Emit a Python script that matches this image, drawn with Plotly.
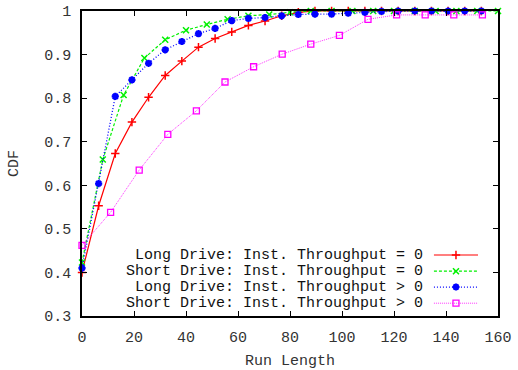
import plotly.graph_objects as go

# Run-length CDF data for the four drive / throughput cases
long_zero_x = [0, 6.4, 12.8, 19.2, 25.6, 32, 38.4, 44.8, 51.2, 57.6, 64, 70.4, 76.8,
               83.2, 89.6, 96, 102.4, 108.8, 115.2, 121.6, 128, 134.4, 140.8, 147.2, 153.6]
long_zero_y = [0.400, 0.553, 0.673, 0.745, 0.802, 0.852, 0.885, 0.917, 0.937, 0.952, 0.967,
               0.977, 0.989, 0.997, 1.0, 1.0, 1.0, 1.0, 1.0, 1.0, 1.0, 1.0, 1.0, 1.0, 1.0]

short_zero_x = [0, 8, 16, 24, 32, 40, 48, 56, 64, 72, 80, 88, 96, 104, 112, 120,
                128, 136, 144, 152, 160]
short_zero_y = [0.423, 0.659, 0.807, 0.892, 0.934, 0.956, 0.969, 0.981, 0.989, 0.992,
                0.997, 1.0, 1.0, 1.0, 1.0, 1.0, 1.0, 1.0, 1.0, 1.0, 1.0]

long_pos_x = [0, 6.4, 12.8, 19.2, 25.6, 32, 38.4, 44.8, 51.2, 57.6, 64, 70.4, 76.8,
              83.2, 89.6, 96, 102.4, 108.8, 115.2, 121.6, 128, 134.4, 140.8, 147.2, 153.6]
long_pos_y = [0.410, 0.604, 0.804, 0.842, 0.880, 0.911, 0.930, 0.948, 0.960, 0.978, 0.983,
              0.985, 0.989, 0.992, 0.993, 0.993, 0.995, 0.997, 0.999, 1.0, 1.0, 1.0, 1.0, 1.0, 1.0]

short_pos_x = [0, 11, 22, 33, 44, 55, 66, 77, 88, 99, 110, 121, 132, 143, 154]
short_pos_y = [0.462, 0.538, 0.635, 0.717, 0.771, 0.837, 0.872, 0.901, 0.924, 0.944,
               0.981, 0.991, 0.991, 0.991, 0.991]

series_names = [
    "Long Drive: Inst. Throughput = 0",
    "Short Drive: Inst. Throughput = 0",
    "Long Drive: Inst. Throughput > 0",
    "Short Drive: Inst. Throughput > 0",
]

x_ticks = [0, 20, 40, 60, 80, 100, 120, 140, 160]
y_ticks = [0.3, 0.4, 0.5, 0.6, 0.7, 0.8, 0.9, 1.0]
y_tick_text = ["0.3", "0.4", "0.5", "0.6", "0.7", "0.8", "0.9", "1"]

FONT = "Liberation Mono"
TEXT_COLOR = "#333333"

styles = [
    dict(color="#ff0000", dash="solid", symbol="cross-thin-open", size=6, width=1.2, mlw=1.5),
    dict(color="#00f000", dash="3px,2px", symbol="x-thin-open", size=6, width=1.2, mlw=1.5),
    dict(color="#0000ff", dash="1px,2px", symbol="asterisk-open", size=6, width=1.3, mlw=2.2),
    dict(color="#ff00ff", dash="1px,1px", symbol="square-open", size=6, width=0.8, mlw=1.3),
]

data = [
    (long_zero_x, long_zero_y),
    (short_zero_x, short_zero_y),
    (long_pos_x, long_pos_y),
    (short_pos_x, short_pos_y),
]


def marker_style(st):
    return dict(symbol=st["symbol"], size=st["size"], color=st["color"],
                line=dict(color=st["color"], width=st["mlw"]))


fig = go.Figure()

for (xs, ys), name, st in zip(data, series_names, styles):
    fig.add_trace(go.Scatter(
        x=xs, y=ys, mode="lines+markers", name=name, showlegend=False,
        cliponaxis=False,
        line=dict(color=st["color"], dash=st["dash"], width=st["width"]),
        marker=marker_style(st),
    ))

# Key in the lower right: right-aligned text, then a line sample with its marker
key_rows = [0.200, 0.147, 0.095, 0.042]
key_text_x = 0.822
key_line = (0.846, 0.952)
key_mark_x = 0.899

for row, name, st in zip(key_rows, series_names, styles):
    fig.add_annotation(
        x=key_text_x, y=row, xref="paper", yref="paper", text=name,
        showarrow=False, xanchor="right", yanchor="middle", borderpad=0,
        font=dict(family=FONT, size=15, color="#111111"),
    )
    fig.add_shape(
        type="line", xref="paper", yref="paper",
        x0=key_line[0], x1=key_line[1], y0=row, y1=row,
        line=dict(color=st["color"], dash=st["dash"], width=st["width"]),
    )
    fig.add_trace(go.Scatter(
        x=[key_mark_x], y=[row], xaxis="x2", yaxis="y2", mode="markers",
        showlegend=False, hoverinfo="skip", cliponaxis=False,
        marker=marker_style(st),
    ))

axis_common = dict(
    showgrid=False, zeroline=False, showline=True, linecolor="#000000", linewidth=1.5,
    mirror="ticks", ticks="inside", ticklen=5, tickcolor="#000000", tickwidth=1,
    tickfont=dict(family=FONT, size=15, color=TEXT_COLOR), automargin=False,
)

fig.update_layout(
    width=518, height=370,
    margin=dict(l=82, r=20, t=11, b=54),
    paper_bgcolor="#ffffff", plot_bgcolor="#ffffff",
    xaxis=dict(range=[0, 160], tickvals=x_ticks, ticktext=[str(v) for v in x_ticks],
               ticklabelstandoff=6,
               title=dict(text="Run Length", font=dict(family=FONT, size=15, color=TEXT_COLOR),
                          standoff=12),
               **axis_common),
    yaxis=dict(range=[0.3, 1.0], tickvals=y_ticks, ticktext=y_tick_text,
               ticklabelstandoff=6,
               title=dict(text="CDF", font=dict(family=FONT, size=15, color=TEXT_COLOR),
                          standoff=22),
               **axis_common),
    xaxis2=dict(range=[0, 1], overlaying="x", visible=False),
    yaxis2=dict(range=[0, 1], overlaying="y", visible=False),
    showlegend=False,
)

fig.write_html("out.html")
